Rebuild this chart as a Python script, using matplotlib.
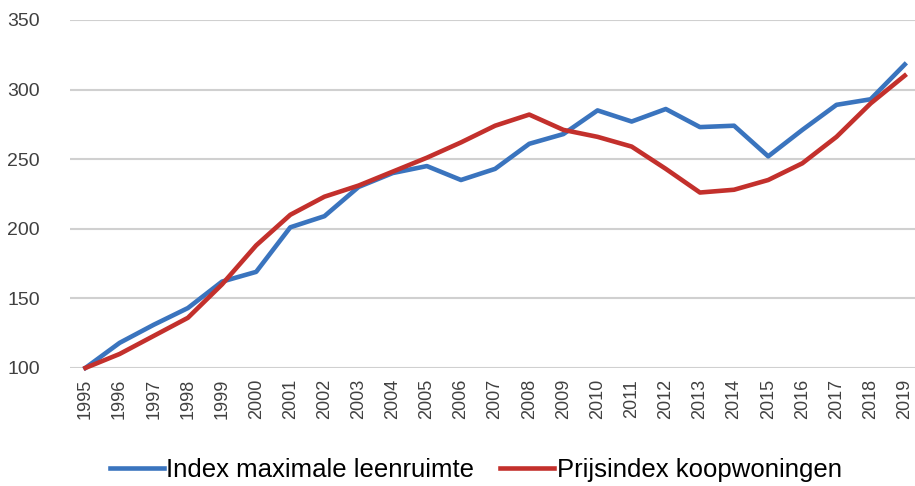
import matplotlib.pyplot as plt

years = list(range(1995, 2020))
leenruimte = [100, 118, 131, 143, 162, 169, 201, 209, 230, 240, 245, 235, 243,
              261, 268, 285, 277, 286, 273, 274, 252, 271, 289, 293, 318]
prijsindex = [100, 110, 123, 136, 160, 188, 210, 223, 231, 241, 251, 262, 274,
              282, 271, 266, 259, 243, 226, 228, 235, 247, 266, 290, 310]

plt.rcParams["font.family"] = ["Liberation Sans", "DejaVu Sans"]

fig = plt.figure(figsize=(9.15, 4.86), dpi=100)
ax = fig.add_axes([0.077, 0.243, 0.923, 0.716])

ax.plot(years, leenruimte, color="#3A74BE", lw=3.3, label="Index maximale leenruimte",
        clip_on=False, zorder=3)
ax.plot(years, prijsindex, color="#C3302C", lw=3.3, label="Prijsindex koopwoningen",
        clip_on=False, zorder=3)

ax.set_xlim(1994.56, 2019.3)
ax.set_ylim(100, 350)
ax.set_yticks(range(100, 351, 50))
ax.set_xticks(years)
ax.set_xticklabels([str(y) for y in years], rotation=90, fontsize=13, color="#404040")
ax.tick_params(axis="y", labelsize=14, colors="#404040", length=0, pad=22)
ax.tick_params(axis="x", length=0, pad=8)
ax.grid(axis="y", color="#D0D0D0", lw=1.5)
ax.set_axisbelow(True)
for s in ax.spines.values():
    s.set_visible(False)

fig.legend(loc="lower center", bbox_to_anchor=(0.52, -0.04), ncol=2, frameon=False,
           fontsize=18.5, handlelength=2.1, columnspacing=1.0, handletextpad=0.1)

fig.savefig("out.png")
